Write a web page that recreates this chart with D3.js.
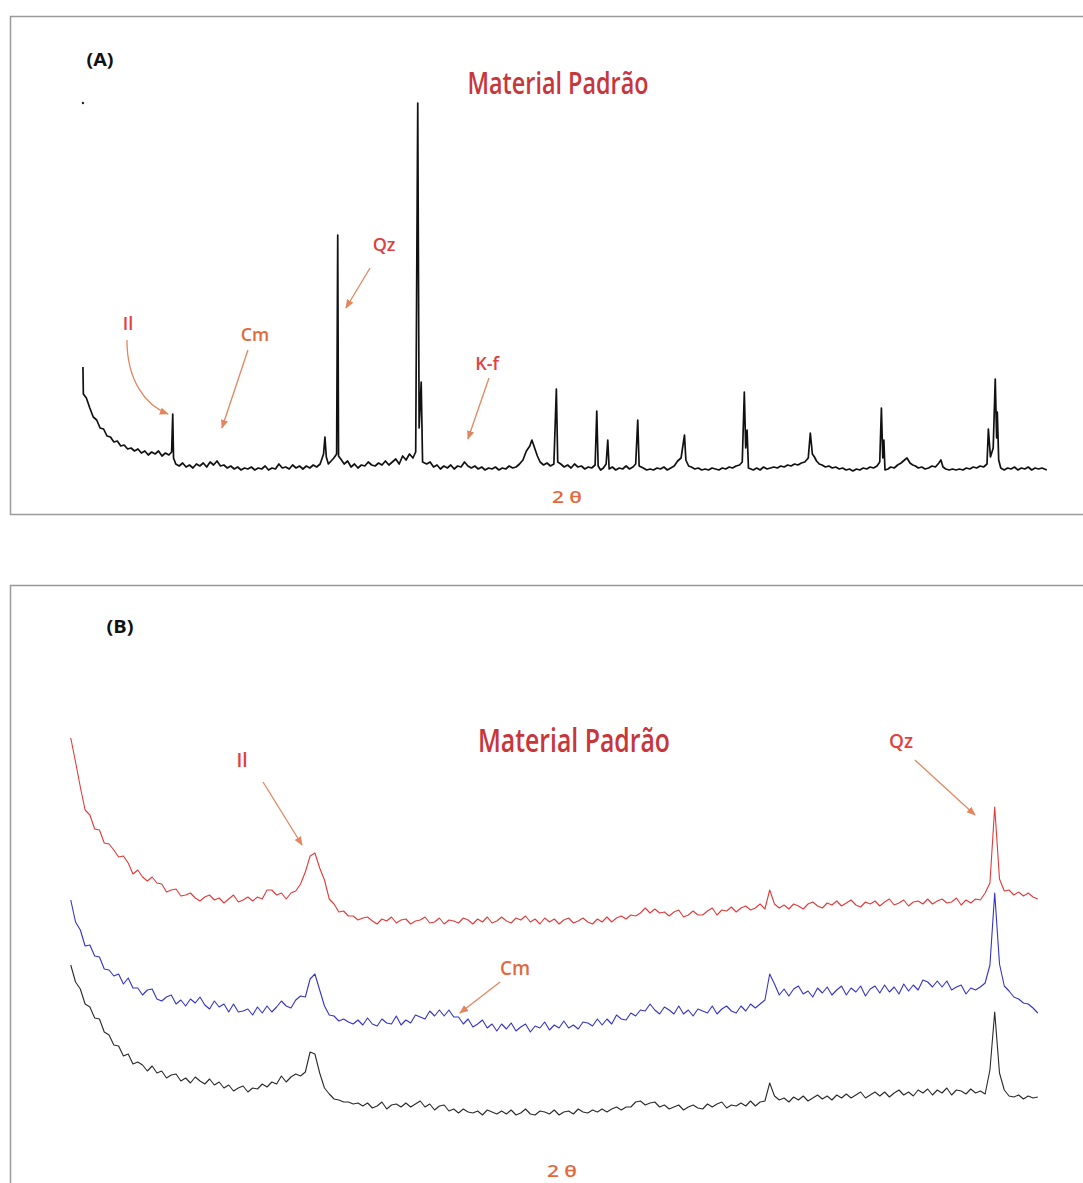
<!DOCTYPE html>
<html>
<head>
<meta charset="utf-8">
<script src="https://cdn.jsdelivr.net/npm/d3@7/dist/d3.min.js"></script>
<style>
    body { margin: 0; background: #fff; }
    svg { display: block; }
</style>
</head>
<body>
<div id="chart"></div>
<script>
// (A) padrao pattern, pairs of [2theta, counts]
var padraoA = [
    [2.25,111],[2.28,84],[2.5,80],[2.75,70],[3.0,61],[3.25,58],[3.5,50],[3.75,49],[4.0,42],[4.25,41],
    [4.5,36],[4.75,37],[5.0,32],[5.25,33],[5.5,29],[5.75,30],[6.0,27],[6.25,29],[6.5,25],[6.75,27],
    [7.0,23],[7.25,26],[7.5,24],[7.75,27],[8.0,22],[8.25,25],[8.5,23],[8.7,26],[8.78,64],[8.84,20],
    [9.0,14],[9.25,12],[9.5,15],[9.75,11],[10.0,13],[10.25,10],[10.5,14],[10.75,12],[11.0,15],[11.25,11],
    [11.5,16],[11.75,13],[12.0,17],[12.25,12],[12.5,13],[12.75,10],[13.0,12],[13.25,9],[13.5,11],[13.75,8],
    [14.0,10],[14.25,9],[14.5,11],[14.75,8],[15.0,10],[15.25,9],[15.5,12],[15.75,8],[16.0,10],[16.25,9],
    [16.5,14],[16.75,10],[17.0,11],[17.25,9],[17.5,13],[17.75,10],[18.0,12],[18.25,9],[18.5,12],[18.75,10],
    [19.0,13],[19.25,11],[19.5,14],[19.75,24],[19.85,41],[19.95,21],[20.1,14],[20.3,17],[20.5,20],[20.7,24],
    [20.78,243],[20.84,22],[21.0,19],[21.25,14],[21.5,17],[21.75,11],[22.0,14],[22.25,10],[22.5,13],[22.75,12],
    [23.0,16],[23.25,13],[23.5,12],[23.75,15],[24.0,13],[24.25,17],[24.5,13],[24.75,16],[25.0,19],[25.25,14],
    [25.5,22],[25.75,18],[26.0,24],[26.25,20],[26.45,26],[26.6,375],[26.7,50],[26.85,96],[26.95,16],[27.25,14],
    [27.5,16],[27.75,11],[28.0,13],[28.25,9],[28.5,12],[28.75,10],[29.0,13],[29.25,9],[29.5,12],[29.75,11],
    [30.0,16],[30.25,12],[30.5,10],[30.75,12],[31.0,9],[31.25,11],[31.5,8],[31.75,10],[32.0,9],[32.25,11],
    [32.5,8],[32.75,10],[33.0,9],[33.25,12],[33.5,10],[33.75,11],[34.0,14],[34.25,18],[34.5,27],[34.75,32],
    [34.9,38],[35.1,30],[35.3,22],[35.5,16],[35.75,13],[36.0,15],[36.25,12],[36.5,14],[36.68,89],[36.78,16],
    [37.0,14],[37.25,11],[37.5,13],[37.75,10],[38.0,14],[38.25,11],[38.5,12],[38.75,9],[39.0,11],[39.25,10],
    [39.5,13],[39.62,67],[39.72,12],[39.9,8],[40.1,10],[40.3,14],[40.42,38],[40.52,9],[40.75,11],[41.0,8],
    [41.25,10],[41.5,9],[41.75,12],[42.0,9],[42.25,11],[42.45,14],[42.6,58],[42.7,12],[43.0,10],[43.25,8],
    [43.5,9],[43.75,8],[44.0,10],[44.25,9],[44.5,11],[44.75,8],[45.0,10],[45.25,12],[45.5,17],[45.75,20],
    [46.0,43],[46.1,18],[46.3,12],[46.5,11],[46.75,9],[47.0,10],[47.25,8],[47.5,9],[47.75,8],[48.0,10],
    [48.25,9],[48.5,8],[48.75,10],[49.0,9],[49.25,11],[49.5,10],[49.75,12],[50.0,13],[50.2,16],[50.35,86],
    [50.45,30],[50.55,48],[50.65,10],[51.0,8],[51.25,10],[51.5,8],[51.75,11],[52.0,9],[52.25,10],[52.5,11],
    [52.75,10],[53.0,12],[53.25,11],[53.5,13],[53.75,12],[54.0,14],[54.25,13],[54.5,15],[54.75,16],[55.0,20],
    [55.15,45],[55.3,24],[55.45,21],[55.6,17],[55.8,14],[56.0,13],[56.25,11],[56.5,12],[56.75,10],[57.0,11],
    [57.25,9],[57.5,10],[57.75,8],[58.0,9],[58.25,7],[58.5,9],[58.75,8],[59.0,10],[59.25,9],[59.5,11],
    [59.75,10],[60.0,12],[60.2,16],[60.32,70],[60.42,20],[60.5,38],[60.58,8],[60.8,9],[61.0,11],[61.25,10],
    [61.5,13],[61.75,15],[62.0,18],[62.18,20],[62.4,15],[62.6,13],[62.8,12],[63.0,10],[63.25,11],[63.5,9],
    [63.75,10],[64.0,12],[64.25,11],[64.5,15],[64.65,18],[64.8,11],[65.0,9],[65.25,8],[65.5,9],[65.75,8],
    [66.0,9],[66.25,8],[66.5,10],[66.75,9],[67.0,11],[67.25,10],[67.5,12],[67.75,11],[68.0,14],[68.1,49],
    [68.25,21],[68.45,30],[68.6,99],[68.7,40],[68.75,66],[68.85,18],[69.0,10],[69.25,8],[69.5,10],[69.75,9],
    [70.0,11],[70.25,8],[70.5,10],[70.75,9],[71.0,11],[71.25,8],[71.5,10],[71.75,9],[72.0,10],[72.35,8]
];
var strayA = [[2.25, 375]];

// (B) three scans on the same 2theta grid: start 2.5, step 0.125
var startB = 2.5, stepB = 0.125;
var vermelhoB = [
    392,368,343,320,315,301,300,287,286,280, 273,274,267,256,260,253,249,253,247,246,
    238,240,241,234,235,237,232,229,233,235, 230,232,227,231,235,228,230,233,229,233,
    231,240,240,235,237,231,237,239,246,258, 274,277,262,250,231,226,218,219,214,214,
    210,212,213,209,206,211,209,213,207,210, 211,206,209,210,213,207,208,212,206,210,
    209,207,212,210,206,211,208,213,207,209, 213,209,207,212,210,214,208,211,206,212,
    208,211,206,210,212,207,209,212,208,206, 211,208,213,208,212,214,211,215,214,217,
    222,217,221,217,218,214,218,220,213,215, 219,215,215,219,222,215,220,219,223,218,
    222,224,220,222,226,221,240,226,222,225, 221,226,224,221,226,228,224,222,227,225,
    229,224,227,230,225,223,228,226,229,224, 228,231,225,227,230,224,228,229,226,231,
    226,229,231,227,228,232,225,230,227,231, 230,237,247,323,251,239,240,235,238,234,
    237,233,231
];
var azulB = [
    230,208,200,184,185,174,173,161,160,154, 156,146,152,142,142,135,140,141,131,129,
    133,135,126,130,124,131,127,133,125,121, 129,123,126,118,126,118,119,121,115,123,
    117,124,118,123,129,124,122,130,134,133, 151,156,140,124,115,114,109,111,108,106,
    110,105,112,106,104,111,107,106,114,105, 110,107,115,113,111,119,114,120,114,120,
    113,113,106,111,103,106,110,102,106,99, 106,101,107,99,103,106,98,104,102,108,
    100,105,102,109,102,105,101,108,107,104, 111,105,111,106,115,111,110,117,114,120,
    119,126,120,116,123,120,116,124,116,120, 114,121,119,117,124,116,121,124,119,117,
    124,119,126,122,126,130,156,146,135,141, 134,141,144,136,139,133,142,137,143,135,
    140,144,135,142,138,144,134,141,144,137, 145,138,143,136,146,139,145,140,150,148,
    143,149,143,149,140,143,145,136,142,140, 143,147,165,237,166,144,139,133,131,127,
    126,122,117
];
var pretoB = [
    165,148,141,126,123,112,111,98,95,85, 84,74,76,66,68,65,59,64,57,59,
    52,55,56,49,52,47,53,49,46,51, 45,48,42,45,39,42,44,38,42,41,
    46,43,48,46,54,48,53,56,54,58, 78,76,57,42,36,31,30,28,28,26,
    27,24,27,22,24,28,21,25,26,23, 27,23,26,29,23,26,20,24,25,19,
    21,17,21,18,17,19,15,20,18,16, 19,16,20,15,17,21,16,15,19,18,
    16,20,15,18,19,16,21,18,17,20, 18,21,18,21,23,20,23,23,28,29,
    25,27,28,23,25,21,23,25,20,23, 25,22,21,26,23,26,28,22,25,24,
    27,24,29,24,28,29,47,34,30,32, 28,33,30,34,29,32,35,31,34,30,
    35,32,36,32,35,38,32,35,38,34, 38,33,37,40,35,38,34,40,37,41,
    35,40,37,42,35,40,39,36,41,37, 39,36,60,118,57,40,34,33,35,31,
    34,32,33
];

var corTitulo = "#c8363c", corRotulo = "#e2403f", corLaranja = "#e4683c", corSeta = "#e3865f";
var fonte = "'Open Sans', 'DejaVu Sans', sans-serif";

var svg = d3.select("#chart").append("svg")
    .attr("width", 1083)
    .attr("height", 1183);

svg.append("defs").append("marker")
    .attr("id", "ponta")
    .attr("viewBox", "0 0 10 10")
    .attr("refX", 9).attr("refY", 5)
    .attr("markerWidth", 7).attr("markerHeight", 7)
    .attr("orient", "auto")
    .append("path")
    .attr("d", "M0,1 L10,5 L0,9 z")
    .attr("fill", corSeta);

function addText(g, x, y, txt, size, color, opts) {
    opts = opts || {};
    var t = g.append("text")
        .attr("x", x).attr("y", y)
        .attr("text-anchor", "middle")
        .style("font-family", fonte)
        .style("font-size", size + "px")
        .style("font-weight", opts.weight || 400)
        .style("fill", color)
        .text(txt);
    if (opts.len) t.attr("textLength", opts.len).attr("lengthAdjust", "spacingAndGlyphs");
    return t;
}

function drawArrows(g, x, y, arrows) {
    g.selectAll(".seta")
        .data(arrows)
        .enter().append("line")
        .attr("class", "seta")
        .attr("x1", function(d) { return x(d[0]); })
        .attr("y1", function(d) { return y(d[1]); })
        .attr("x2", function(d) { return x(d[2]); })
        .attr("y2", function(d) { return y(d[3]); })
        .attr("stroke", corSeta).attr("stroke-width", 1.3)
        .attr("marker-end", "url(#ponta)");
}

function drawPanelA() {
    var g = svg.append("g");
    g.append("rect")
        .attr("x", 10.5).attr("y", 16.5)
        .attr("width", 1090).attr("height", 498)
        .attr("fill", "none").attr("stroke", "#9a9a9a").attr("stroke-width", 1.5);

    var x = d3.scaleLinear().domain([2, 72]).range([79.5, 1042]);
    var y = d3.scaleLinear().domain([0, 375]).range([478, 103]);

    var line = d3.line()
        .x(function(d) { return x(d[0]); })
        .y(function(d) { return y(d[1]); });

    g.append("path")
        .datum(padraoA)
        .attr("d", line)
        .attr("fill", "none")
        .attr("stroke", "#111")
        .attr("stroke-width", 1.7)
        .attr("stroke-linejoin", "round");

    g.selectAll(".stray")
        .data(strayA)
        .enter().append("circle")
        .attr("cx", function(d) { return x(d[0]); })
        .attr("cy", function(d) { return y(d[1]); })
        .attr("r", 1.2)
        .attr("fill", "#222");

    addText(g, 100, 66, "(A)", 18, "#111", {weight: 700, len: 27});
    addText(g, 558, 94, "Material Padrão", 31, corTitulo, {weight: 600, len: 181});
    addText(g, 567, 503, "2 θ", 16, corLaranja, {weight: 600, len: 30});

    var labels = [
        {txt: "Il", t: 5.53, v: 148, color: corRotulo},
        {txt: "Cm", t: 14.76, v: 137, color: corLaranja},
        {txt: "Qz", t: 24.15, v: 227, color: corRotulo},
        {txt: "K-f", t: 31.64, v: 108, color: corRotulo}
    ];
    labels.forEach(function(l) {
        addText(g, x(l.t), y(l.v), l.txt, 18, l.color, {weight: 600});
    });

    // curved arrow for Il
    g.append("path")
        .attr("d", "M" + x(5.45) + "," + y(138) + " C" + x(5.45) + "," + y(98) + " " + x(6.76) + "," + y(73) + " " + x(8.44) + "," + y(64))
        .attr("fill", "none").attr("stroke", corSeta).attr("stroke-width", 1.3)
        .attr("marker-end", "url(#ponta)");

    drawArrows(g, x, y, [
        [14.25, 128, 12.36, 50],
        [23.13, 210, 21.38, 170],
        [31.78, 100, 30.25, 39]
    ]);
}

function drawPanelB() {
    var g = svg.append("g");
    g.append("rect")
        .attr("x", 10.5).attr("y", 585.5)
        .attr("width", 1090).attr("height", 700)
        .attr("fill", "none").attr("stroke", "#9a9a9a").attr("stroke-width", 1.5);

    var x = d3.scaleLinear().domain([2.5, 27.75]).range([70.75, 1037.8]);
    var y = d3.scaleLinear().domain([0, 400]).range([1130, 730]);

    var angles = vermelhoB.map(function(d, i) { return startB + i * stepB; });

    var line = d3.line()
        .x(function(d, i) { return x(angles[i]); })
        .y(function(d) { return y(d); });

    var series = [
        {values: vermelhoB, color: "#e23a3a"},
        {values: azulB, color: "#3434c4"},
        {values: pretoB, color: "#2a2a2a"}
    ];

    g.selectAll(".scan")
        .data(series)
        .enter().append("path")
        .attr("class", "scan")
        .attr("d", function(d) { return line(d.values); })
        .attr("fill", "none")
        .attr("stroke", function(d) { return d.color; })
        .attr("stroke-width", 1.1)
        .attr("stroke-linejoin", "round");

    addText(g, 120, 633, "(B)", 18, "#111", {weight: 700, len: 27});
    addText(g, 574, 752, "Material Padrão", 33, corTitulo, {weight: 600, len: 192});
    addText(g, 562, 1177, "2 θ", 16, corLaranja, {weight: 600, len: 30});

    var labels = [
        {txt: "Il", t: 6.97, v: 363, color: corRotulo},
        {txt: "Cm", t: 14.1, v: 155, color: corLaranja},
        {txt: "Qz", t: 24.18, v: 382, color: corRotulo}
    ];
    labels.forEach(function(l) {
        addText(g, x(l.t), y(l.v), l.txt, 19, l.color, {weight: 600});
    });

    drawArrows(g, x, y, [
        [7.52, 348, 8.54, 285],
        [13.71, 148, 12.66, 117],
        [24.54, 370, 26.11, 315]
    ]);
}

drawPanelA();
drawPanelB();
</script>
</body>
</html>
